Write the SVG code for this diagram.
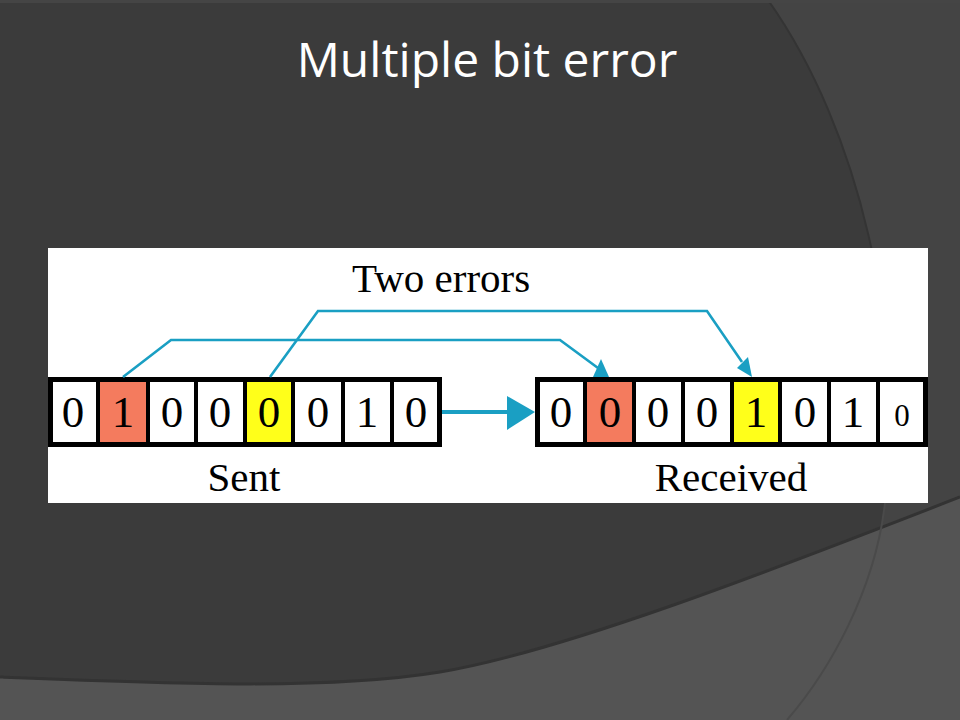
<svg xmlns="http://www.w3.org/2000/svg" width="960" height="720" viewBox="0 0 960 720">
<defs>
<style>
.bit{font-family:"Liberation Serif","Times New Roman",serif;font-size:45px;fill:#000;text-anchor:middle}
.lbl{font-family:"Liberation Serif","Times New Roman",serif;font-size:41px;fill:#000}
.conn{fill:none;stroke:#1a9fc3;stroke-width:2.6;stroke-linejoin:miter}
.head{fill:#1a9fc3}
.div{stroke:#000;stroke-width:4}
.frame{fill:none;stroke:#000;stroke-width:5}
</style>
</defs>
<g id="background">
<rect x="0" y="0" width="960" height="720" fill="#3b3b3b"/>
<path d="M768,0 C860,130 905,330 885,503 C875,590 830,670 787,720 L960,720 L960,0 Z" fill="#444444"/>
<path d="M768,0 C860,130 905,330 885,503" fill="none" stroke="#343434" stroke-width="2"/>
<path d="M0,677 C180,684 330,690 440,672 C560,652 760,575 960,497 L960,720 L0,720 Z" fill="#545454"/>
<path d="M0,677 C180,684 330,690 440,672 C560,652 760,575 960,497" fill="none" stroke="#333333" stroke-width="3"/>
<path d="M885,503 C875,590 830,670 787,720" fill="none" stroke="#4a4a4a" stroke-width="2"/>
<rect x="0" y="0" width="960" height="3" fill="#454545"/>
</g>
<g id="title">
<text x="487" y="77" font-family="'Open Sans','Noto Sans',sans-serif" font-size="48" fill="#ffffff" text-anchor="middle">Multiple bit error</text>
</g>
<g id="panel">
<rect x="48" y="248" width="880" height="255" fill="#ffffff"/>
</g>
<g id="label-two-errors">
<text class="lbl" x="352" y="292">Two errors</text>
</g>
<g id="sent">
<rect x="98" y="379" width="50" height="65" fill="#f47b5e"/>
<rect x="245" y="379" width="48" height="65" fill="#ffff1a"/>
<line class="div" x1="98" y1="379" x2="98" y2="444"/>
<line class="div" x1="148" y1="379" x2="148" y2="444"/>
<line class="div" x1="196" y1="379" x2="196" y2="444"/>
<line class="div" x1="245" y1="379" x2="245" y2="444"/>
<line class="div" x1="293" y1="379" x2="293" y2="444"/>
<line class="div" x1="343" y1="379" x2="343" y2="444"/>
<line class="div" x1="392" y1="379" x2="392" y2="444"/>
<rect class="frame" x="50.5" y="379.5" width="389" height="65"/>
<text class="bit" x="73" y="427">0</text>
<text class="bit" x="123" y="427">1</text>
<text class="bit" x="172" y="427">0</text>
<text class="bit" x="220" y="427">0</text>
<text class="bit" x="269" y="427">0</text>
<text class="bit" x="318" y="427">0</text>
<text class="bit" x="367" y="427">1</text>
<text class="bit" x="416" y="427">0</text>
<text class="lbl" x="244" y="491" text-anchor="middle">Sent</text>
</g>
<g id="received">
<rect x="585" y="379" width="49" height="65" fill="#f47b5e"/>
<rect x="732" y="379" width="48" height="65" fill="#ffff1a"/>
<line class="div" x1="585" y1="379" x2="585" y2="444"/>
<line class="div" x1="634" y1="379" x2="634" y2="444"/>
<line class="div" x1="683" y1="379" x2="683" y2="444"/>
<line class="div" x1="732" y1="379" x2="732" y2="444"/>
<line class="div" x1="780" y1="379" x2="780" y2="444"/>
<line class="div" x1="829" y1="379" x2="829" y2="444"/>
<line class="div" x1="878" y1="379" x2="878" y2="444"/>
<rect class="frame" x="537.5" y="379.5" width="388" height="65"/>
<text class="bit" x="561" y="427">0</text>
<text class="bit" x="610" y="427">0</text>
<text class="bit" x="658" y="427">0</text>
<text class="bit" x="707" y="427">0</text>
<text class="bit" x="756" y="427">1</text>
<text class="bit" x="805" y="427">0</text>
<text class="bit" x="853" y="427">1</text>
<text class="bit" x="902" y="426" style="font-size:31px">0</text>
<text class="lbl" x="731" y="491" text-anchor="middle">Received</text>
</g>
<g id="connectors">
<polyline class="conn" points="123,377 171,340 560,340 598,368"/>
<polygon class="head" points="593,377 609,377 601,359"/>
<polyline class="conn" points="270,377 318,311 707,311 742,362"/>
<polygon class="head" points="737,368 748,357 752,377"/>
<line x1="442" y1="412" x2="510" y2="412" stroke="#1a9fc3" stroke-width="4"/>
<polygon class="head" points="507,396 535,412 507,430"/>
</g>
</svg>
